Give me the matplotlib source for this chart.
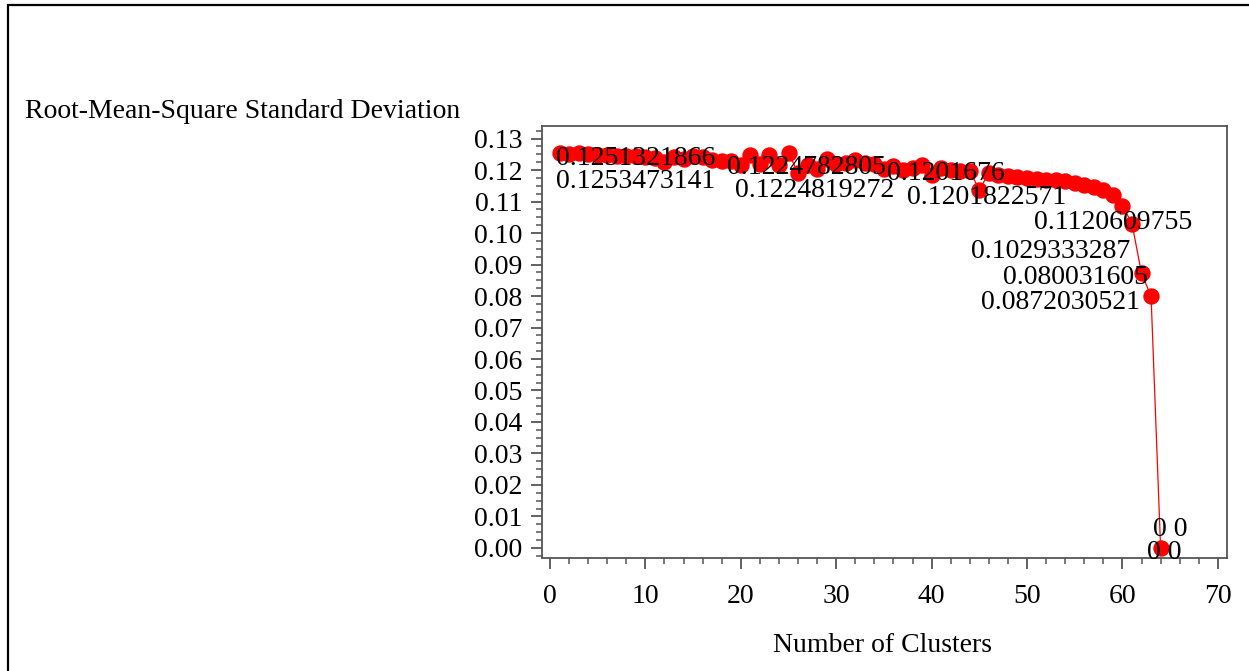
import matplotlib
matplotlib.use("Agg")
import matplotlib.pyplot as plt
from matplotlib.patches import Rectangle
from matplotlib.ticker import MultipleLocator
import numpy as np

# Number of clusters and RMS standard deviation
clusters = list(range(1, 65))
rmsstd = [0.1255, 0.1252, 0.1253, 0.1250, 0.1248, 0.1247, 0.1246, 0.1245,
          0.1244, 0.1240, 0.1238, 0.1225, 0.1240, 0.1236, 0.1244, 0.1240,
          0.1232, 0.1230, 0.1228, 0.1215, 0.1247, 0.1220, 0.1248, 0.1217,
          0.1253, 0.1192, 0.1215, 0.1205, 0.1235, 0.1218, 0.1222, 0.1232,
          0.1222, 0.1218, 0.1205, 0.1212, 0.1200, 0.1208, 0.1215, 0.1185,
          0.1208, 0.1200, 0.1198, 0.1196, 0.1138, 0.1190, 0.1185, 0.1182,
          0.1178, 0.1175, 0.1172, 0.1170, 0.1168, 0.1165, 0.1160, 0.1152,
          0.1147, 0.1138, 0.1122, 0.1087, 0.1030, 0.0872, 0.0800, 0.0]

# point labels as printed on the chart
point_labels = ["0.1251321866", "0.1253473141", "0.1224782805", "0.1224819272",
                "0.1201676", "0.1201822571", "0.1120609755", "0.1029333287",
                "0.080031605", "0.0872030521", "0 0", "0 0"]

# where each label sits: cluster it hangs on, pixel offset, alignment
label_layout = [(1, -4, -6, "left"), (1, -4, -29, "left"),
                (19, -4, -6, "left"), (19, 4, -29, "left"),
                (37, -16, -3, "left"), (37, 4, -27, "left"),
                (59, 0, -28, "center"), (61, -2, -28, "right"),
                (63, -3, 19, "right"), (62, -2, -29, "right"),
                (64, -8, 18, "left"), (64, -14, -5, "left")]

plt.rcParams['font.family'] = ['Liberation Serif', 'DejaVu Serif']
fs = 20

fig = plt.figure(figsize=(12.49, 6.71), dpi=100)
ax = fig.add_axes([541.7 / 1249, 1 - 558 / 671, (1227 - 541.7) / 1249, (558 - 126) / 671])

# outer frame, cut at right and bottom like the source
fig.patches.append(Rectangle((8 / 1249, -0.2), 1.2, 1.2 - 5 / 671, transform=fig.transFigure,
                             fill=False, edgecolor='black', linewidth=1.6))

ax.plot(clusters, rmsstd, color='red', linewidth=0.9, marker='o', markersize=10.8,
        markerfacecolor='red', markeredgecolor='red', zorder=3)

for text, (idx, dx, dy, ha) in zip(point_labels, label_layout):
    ax.annotate(text, xy=(clusters[idx - 1], rmsstd[idx - 1]), xytext=(dx, dy),
                textcoords='offset pixels', ha=ha, va='center', fontsize=fs,
                color='black', zorder=5, annotation_clip=False)

ax.set_xlim(-0.87, 70.96)
ax.set_ylim(-0.0032, 0.134)
ax.xaxis.set_major_locator(MultipleLocator(10))
ax.xaxis.set_minor_locator(MultipleLocator(2))
ax.yaxis.set_major_locator(MultipleLocator(0.01))
ax.yaxis.set_minor_locator(MultipleLocator(0.0025))
ax.yaxis.set_major_formatter(matplotlib.ticker.FormatStrFormatter('%.2f'))

for s in ax.spines.values():
    s.set_color('#555555')
    s.set_linewidth(1.3)
ax.tick_params(which='major', length=8, width=1.3, color='#555555', labelsize=fs)
ax.tick_params(which='minor', length=4.5, width=1.1, color='#555555')
ax.tick_params(axis='x', which='major', pad=11)
ax.tick_params(axis='y', which='major', pad=6)

fig.text(25 / 1249, 1 - 111 / 671, "Root-Mean-Square Standard Deviation",
         ha='left', va='center', fontsize=fs)
fig.text(883 / 1249, 1 - 645 / 671, "Number of Clusters",
         ha='center', va='center', fontsize=fs)

fig.savefig("out.png", dpi=100)
